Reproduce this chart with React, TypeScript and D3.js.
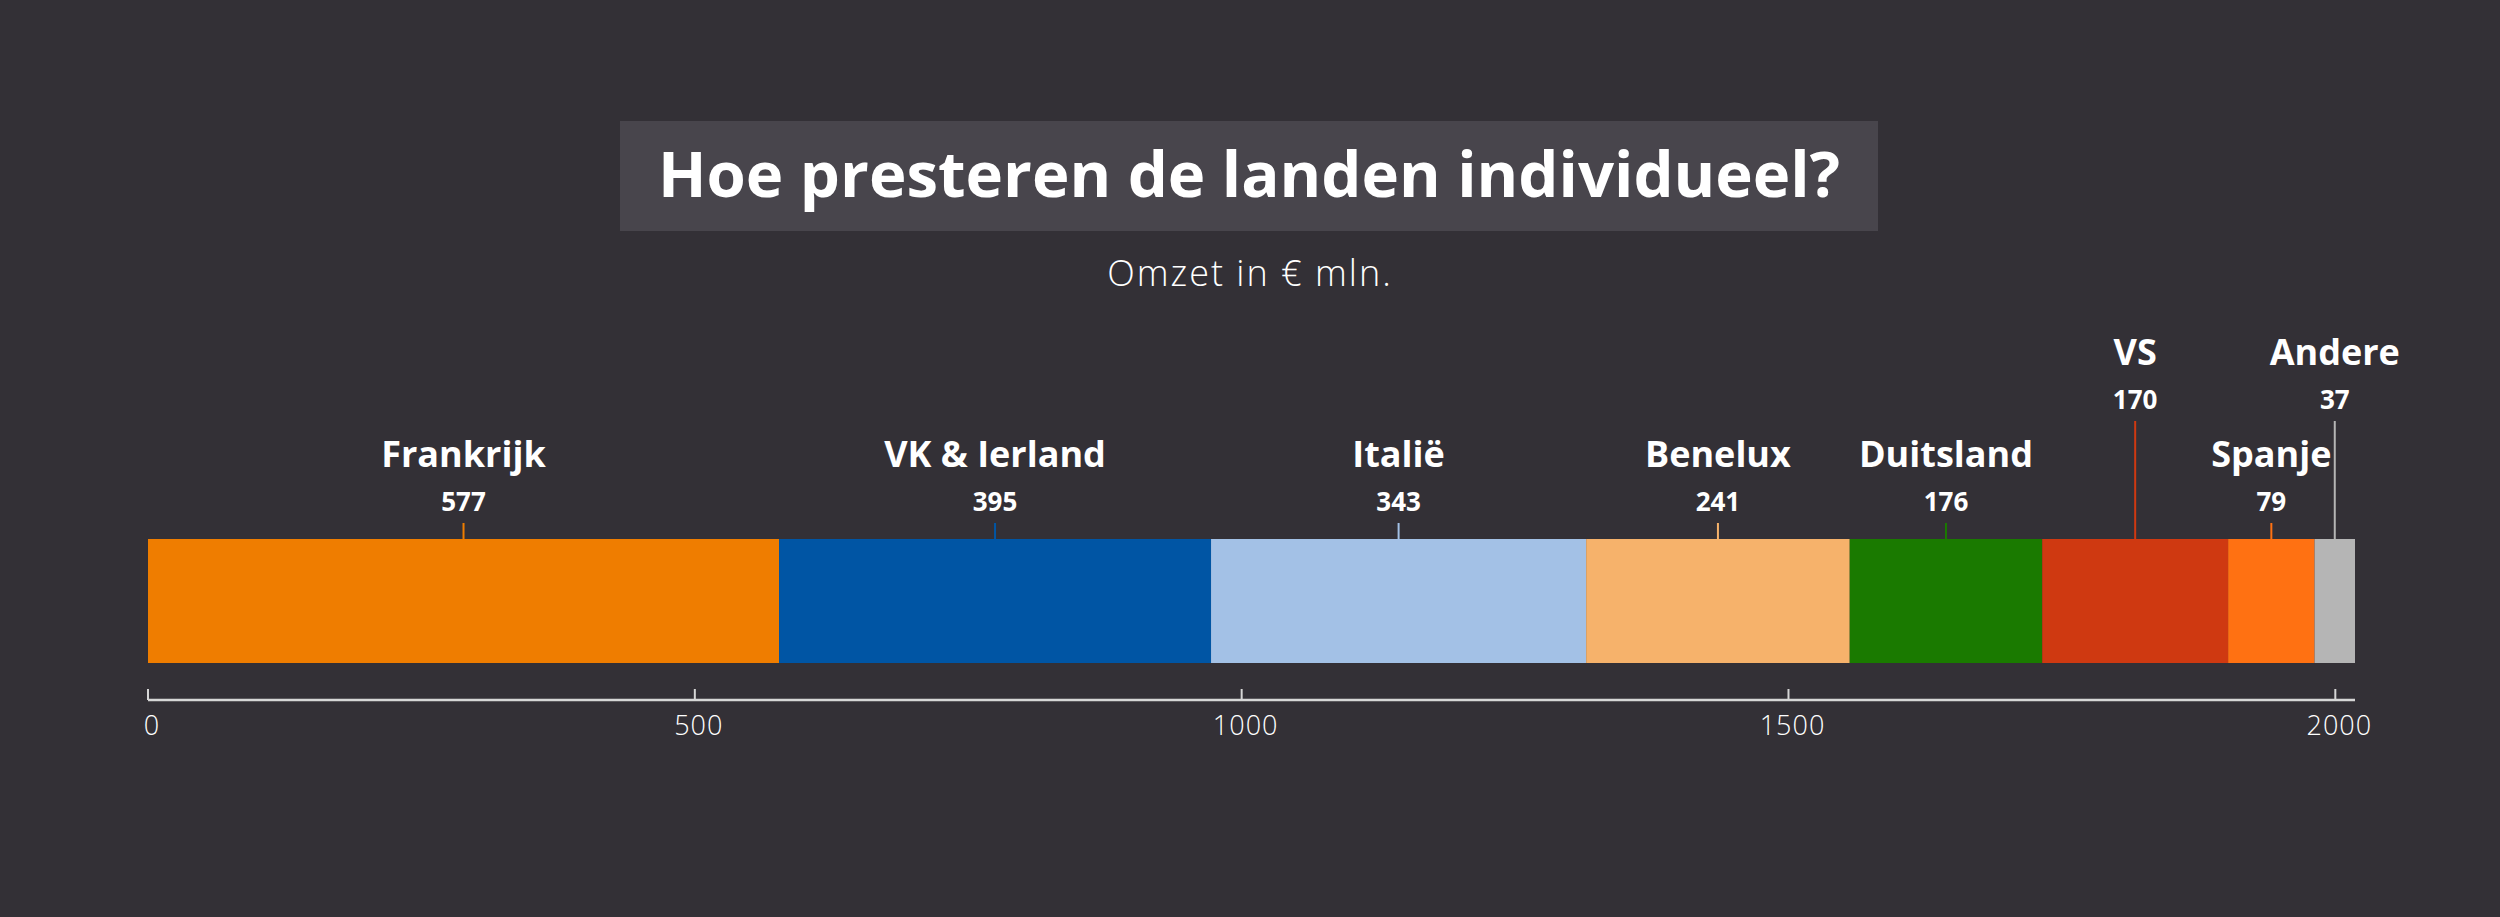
import React from 'react';
import * as d3 from 'd3';

const categories = ['Frankrijk', 'VK & Ierland', 'Italië', 'Benelux', 'Duitsland', 'VS', 'Spanje', 'Andere'];
const values = [577, 395, 343, 241, 176, 170, 79, 37];
const colors = ['#ef7d00', '#0055a4', '#a3c1e6', '#f6b26b', '#1a7a00', '#cf3911', '#ff7112', '#b5b5b5'];
const axisTicks = [0, 500, 1000, 1500, 2000];
const titleText = 'Hoe presteren de landen individueel?';
const subtitleText = 'Omzet in € mln.';
const raisedLabels = ['VS', 'Andere'];

const W = 2500;
const H = 917;
const FONT = "'Open Sans', 'Noto Sans', sans-serif";

export default function App() {
  React.useEffect(() => {
    document.body.style.margin = '0';
    document.body.style.background = '#333036';
  }, []);

  const total = d3.sum(values);
  const x = d3.scaleLinear().domain([0, total]).range([148, 2355]);
  const ends = Array.from(d3.cumsum(values));
  const starts = ends.map((e, i) => e - values[i]);

  const barTop = 539;
  const barH = 124;
  const axisY = 700;
  const tierShift = 102;

  return (
    <div style={{ position: 'absolute', left: 0, top: 0 }}>
      <svg width={W} height={H} style={{ display: 'block' }}>
        <rect x={0} y={0} width={W} height={H} fill="#333036" />
        <rect x={620} y={121} width={1258} height={110} fill="#48454c" />
        <text x={1249} y={197} textAnchor="middle" fill="#ffffff" fontFamily={FONT} fontWeight={700} fontSize={63.5}>
          {titleText}
        </text>
        <text x={1250} y={286} textAnchor="middle" fill="#ffffff" fontFamily={FONT} fontWeight={300} fontSize={36} letterSpacing={2}>
          {subtitleText}
        </text>

        {categories.map((c, i) => (
          <rect key={c} x={x(starts[i])} y={barTop} width={x(ends[i]) - x(starts[i])} height={barH} fill={colors[i]} />
        ))}

        {categories.map((c, i) => {
          const cx = x((starts[i] + ends[i]) / 2);
          const up = raisedLabels.includes(c) ? tierShift : 0;
          const labelY = 467 - up;
          const valueY = 511 - up;
          return (
            <g key={'l' + c}>
              <line x1={cx} x2={cx} y1={523 - up} y2={barTop} stroke={colors[i]} strokeWidth={2} />
              <text x={cx} y={labelY} textAnchor="middle" fill="#ffffff" fontFamily={FONT} fontWeight={700} fontSize={36}>
                {c}
              </text>
              <text x={cx} y={valueY} textAnchor="middle" fill="#ffffff" fontFamily={FONT} fontWeight={700} fontSize={26}>
                {values[i]}
              </text>
            </g>
          );
        })}

        <line x1={x(0)} x2={x(total)} y1={axisY} y2={axisY} stroke="#d6d6d6" strokeWidth={2.5} />
        {axisTicks.map((t) => (
          <g key={'t' + t}>
            <line x1={x(t)} x2={x(t)} y1={axisY - 11} y2={axisY} stroke="#d6d6d6" strokeWidth={2} />
            <text x={x(t) + 4} y={735} textAnchor="middle" fill="#ffffff" fontFamily={FONT} fontWeight={300} fontSize={27} letterSpacing={1}>
              {t}
            </text>
          </g>
        ))}
      </svg>
    </div>
  );
}
